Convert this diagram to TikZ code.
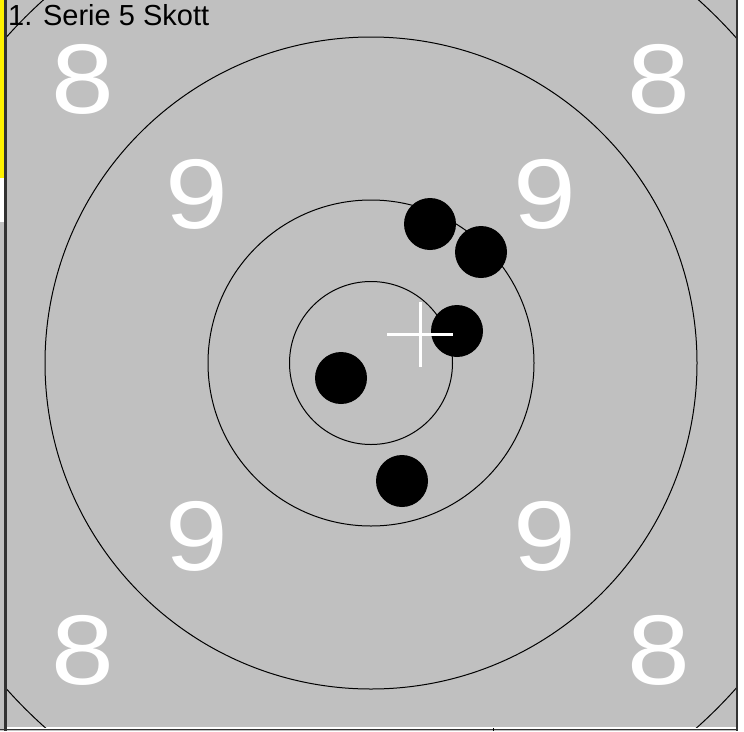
\documentclass[tikz,border=0pt]{standalone}
\usepackage{fontspec}
\setmainfont{Liberation Sans}
\definecolor{scheibe}{RGB}{192,192,192}
\definecolor{rand}{RGB}{50,50,50}
\begin{document}
\begin{tikzpicture}[x=1pt, y=-1pt,
    ring/.style={line width=1pt, black},
    skott/.style={circle, fill=black, minimum size=52pt, inner sep=0pt},
    ringzahl/.style={text=white, inner sep=0pt, xscale=1.14, transform shape,
                     font=\fontsize{99}{99}\selectfont}]

\useasboundingbox (0,0) rectangle (744,731);

% ── Hintergrund und Rahmen ────────────────────────────────────
\fill[white]   (0,0) rectangle (744,731);
\fill[scheibe] (7,0) rectangle (736,727);
\fill[scheibe] (0,222) rectangle (5,731);
\fill[scheibe] (0,730) rectangle (738,731);
\fill[yellow]  (0,0) rectangle (4,178);
\draw[line width=2.2pt, rand] (5.5,0) -- (5.5,731);
\draw[line width=2pt, rand] (737,0) -- (737,731);
\draw[line width=1pt, rand] (0,729.5) -- (738,729.5);
\draw[line width=1pt, black] (493,728) -- (493,731);

% ── Ringe ─────────────────────────────────────────────────────
\coordinate (mitte) at (371,363);
\draw[ring] (mitte) circle[radius=81.5];
\draw[ring] (mitte) circle[radius=163];
\draw[ring] (mitte) circle[radius=326];
% Ring 7 nur in den Ecken sichtbar
\begin{scope}
  \clip (7,0) rectangle (736,727);
  \draw[ring] (mitte) circle[radius=489];
\end{scope}

% ── Ringzahlen ────────────────────────────────────────────────
\node[ringzahl] (acht-ol) at (83,79)  {8};
\node[ringzahl] (acht-or) at (659,79) {8};
\node[ringzahl] (acht-ul) at (83,650) {8};
\node[ringzahl] (acht-ur) at (659,650) {8};
\node[ringzahl] (neun-ol) at (197,194) {9};
\node[ringzahl] (neun-or) at (545,194) {9};
\node[ringzahl] (neun-ul) at (197,536) {9};
\node[ringzahl] (neun-ur) at (545,536) {9};

% ── Treffer ───────────────────────────────────────────────────
\node[skott] (skott1) at (430,224) {};
\node[skott] (skott2) at (481,252) {};
\node[skott] (skott3) at (457,331) {};
\node[skott] (skott4) at (341,378) {};
\node[skott] (skott5) at (402,481) {};

% ── Mittlerer Treffpunkt ──────────────────────────────────────
\coordinate (mtp) at (420,334.5);
\draw[white, line width=3pt] ([xshift=-33pt]mtp) -- ([xshift=33pt]mtp);
\draw[white, line width=3pt] ([yshift=32.5pt]mtp) -- ([yshift=-32.5pt]mtp);

% ── Titel ─────────────────────────────────────────────────────
\node[anchor=base west, inner sep=0pt, font=\fontsize{29}{29}\selectfont]
    (titel) at (8,25) {1. Serie 5 Skott};

\end{tikzpicture}
\end{document}
